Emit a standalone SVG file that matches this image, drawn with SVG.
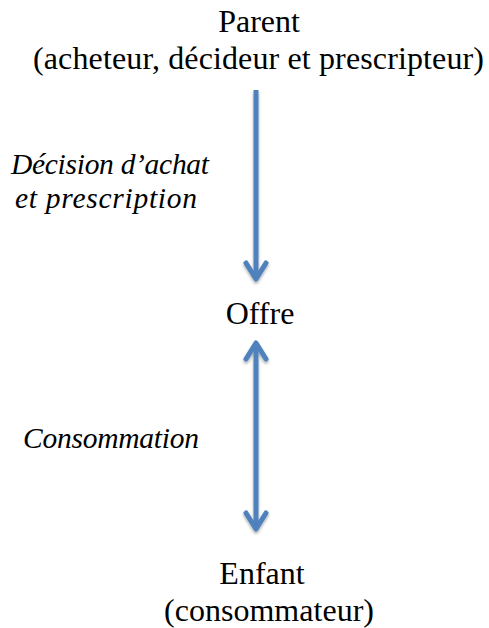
<svg xmlns="http://www.w3.org/2000/svg" width="489" height="628" viewBox="0 0 489 628">
<style>
text{font-family:"Liberation Serif","DejaVu Serif",serif;font-size:32px;fill:#000}
.c{text-anchor:middle}
.i{font-style:italic;font-size:29.5px}
.ln{stroke:#4f81bd;stroke-width:5;fill:none}
.hd{stroke:#4f81bd;stroke-width:5;fill:none;stroke-linecap:round;stroke-linejoin:round}
</style>
<defs>
<filter id="sh" x="-50%" y="-10%" width="200%" height="120%"><feGaussianBlur in="SourceAlpha" stdDeviation="1.5"/><feOffset dx="0" dy="2"/><feComponentTransfer><feFuncA type="linear" slope="0.35"/></feComponentTransfer><feMerge><feMergeNode/><feMergeNode in="SourceGraphic"/></feMerge></filter>
</defs>
<g id="parent"><text class="c" x="259" y="32">Parent</text><text x="33" y="69" textLength="451" lengthAdjust="spacing">(acheteur, décideur et prescripteur)</text></g>
<g id="offre"><text class="c" x="260" y="324">Offre</text></g>
<g id="enfant"><text class="c" x="262" y="584">Enfant</text><text x="164" y="621" textLength="210" lengthAdjust="spacing">(consommateur)</text></g>
<g id="labels"><text class="i" x="11" y="174" textLength="198" lengthAdjust="spacing">Décision d’achat</text><text class="i" x="15" y="208" textLength="182" lengthAdjust="spacing">et prescription</text><text class="i" x="23" y="448" textLength="176" lengthAdjust="spacing">Consommation</text></g>
<g id="connectors" filter="url(#sh)">
<path class="ln" d="M256 90V279"/><path class="hd" d="M246 263L256 279L266 263"/>
<path class="ln" d="M256 343V529"/><path class="hd" d="M246 359L256 343L266 359"/><path class="hd" d="M246 513L256 529L266 513"/>
</g>
</svg>
